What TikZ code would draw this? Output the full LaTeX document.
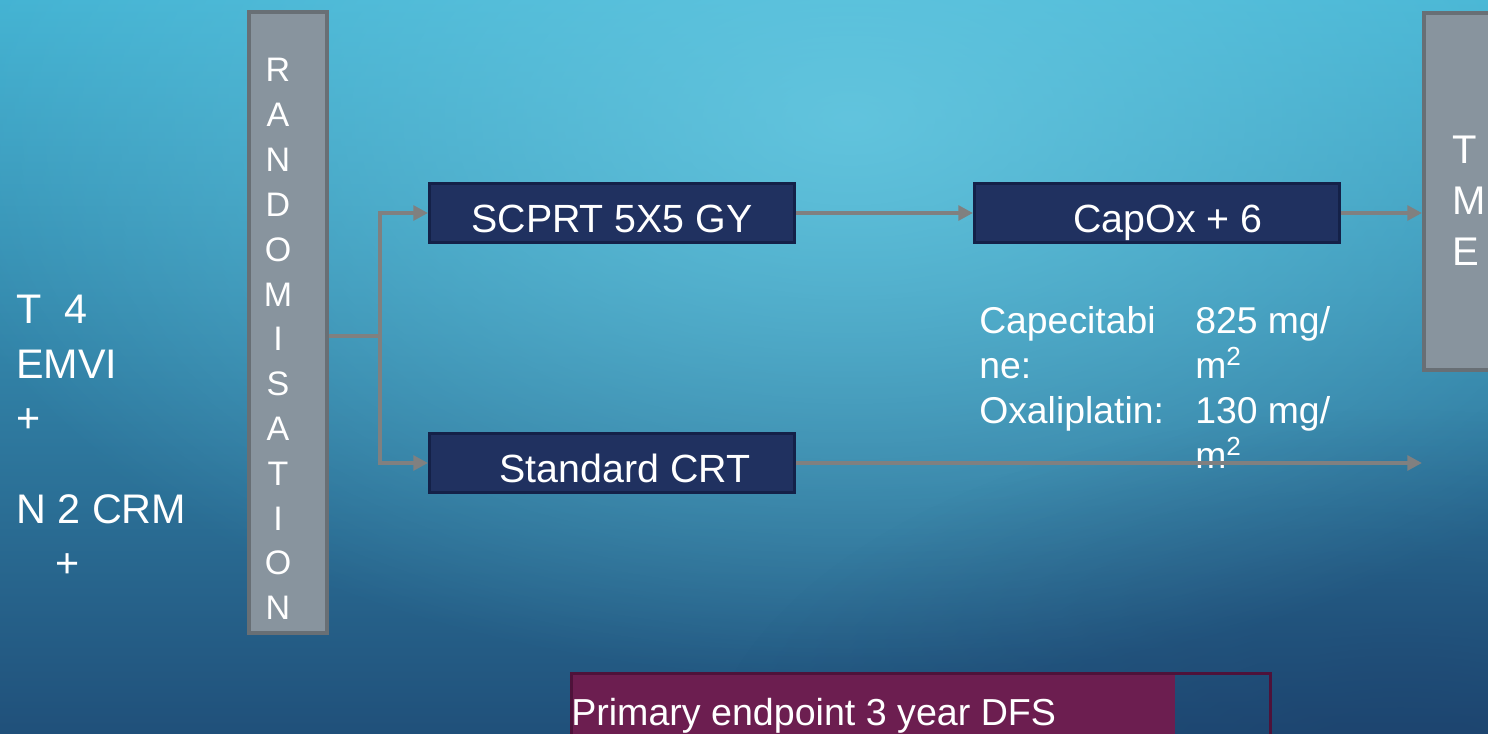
\documentclass[tikz,border=0pt]{standalone}
\usepackage{fontspec}
\setmainfont{Liberation Sans}
\usetikzlibrary{arrows.meta,fadings,calc}

\tikzfading[name=myfade, inner color=transparent!0, outer color=transparent!100]

\definecolor{bgtop}{RGB}{66,178,210}
\definecolor{bgmid}{RGB}{64,164,200}
\definecolor{bgbot}{RGB}{32,80,122}
\definecolor{bglight}{RGB}{104,202,226}
\definecolor{bgdark}{RGB}{26,56,100}
\definecolor{navyfill}{RGB}{32,49,96}
\definecolor{navyedge}{RGB}{20,33,72}
\definecolor{grayfill}{RGB}{136,148,158}
\definecolor{grayedge}{RGB}{104,111,117}
\definecolor{maroonfill}{RGB}{108,30,80}
\definecolor{maroonedge}{RGB}{78,18,58}
\definecolor{conncol}{RGB}{128,128,128}

\begin{document}
\begin{tikzpicture}[x=0.75pt,y=-0.75pt,
  navybox/.style={draw=navyedge, line width=2.25pt, fill=navyfill,
    minimum width=273.75pt, minimum height=44pt, inner sep=1pt, text=white,
    font=\fontsize{29.5pt}{35pt}\selectfont, text height=29.5pt, text depth=0pt},
  graybox/.style={draw=grayedge, line width=3pt, fill=grayfill, inner sep=0pt},
  wtext/.style={text=white, inner sep=0pt, anchor=base west},
  lefttext/.style={wtext, font=\fontsize{31pt}{37pt}\selectfont},
  dosetext/.style={wtext, font=\fontsize{28pt}{34pt}\selectfont},
  randletter/.style={text=white, inner sep=0pt, anchor=base, font=\fontsize{25.5pt}{30pt}\selectfont},
  tmeletter/.style={wtext, font=\fontsize{30pt}{36pt}\selectfont},
  conn/.style={draw=conncol, line width=3.3pt},
  arr/.style={-{Triangle[length=11pt,width=11pt]}}
]
\useasboundingbox (0,0) rectangle (1488,734);
\clip (0,0) rectangle (1488,734);
% background
\shade[top color=bgtop, middle color=bgmid, bottom color=bgbot] (0,0) rectangle (1488,734);
\fill[bglight, path fading=myfade, opacity=0.85] (850,120) ellipse (950 and 560);
\fill[bgdark, path fading=myfade, opacity=0.55] (1400,790) ellipse (700 and 380);

% left text
\node[lefttext] (t4) at (16,323) {T\hspace{0.55em}4};
\node[lefttext] (emvi) at (16,378) {EMVI};
\node[lefttext] (plusa) at (16,432) {+};
\node[lefttext] (n2crm) at (16,523) {N 2 CRM};
\node[lefttext] (plusb) at (55,577) {+};

% randomisation box
\node[graybox, minimum width=58.5pt, minimum height=465.75pt] (rand) at (288,322.5) {};
\foreach \l [count=\i] in {R,A,N,D,O,M,I,S,A,T,I,O,N}
  \node[randletter] (rl\i) at (278,{82+44.8*(\i-1)}) {\l};

% TME box
\node[graybox, minimum width=87pt, minimum height=267.75pt] (tme) at (1482,191.5) {};
\node[tmeletter] (tmeT) at (1452,164) {T};
\node[tmeletter] (tmeM) at (1452,215) {M};
\node[tmeletter] (tmeE) at (1452,266) {E};

% treatment boxes
\node[navybox] (scprt) at (612,213) {SCPRT 5X5 GY};
\node[navybox] (crt) at (612,463) {\hspace*{19.5pt}Standard CRT};
\node[navybox] (capox) at (1157,213) {\hspace*{16.5pt}CapOx + 6};

% doses
\node[dosetext] (capa) at (979,333) {Capecitabi};
\node[dosetext] (capb) at (979,378) {ne:};
\node[dosetext] (oxa) at (979,423) {Oxaliplatin:};
\node[dosetext] (dosea) at (1195,333) {825 mg/};
\node[dosetext] (doseb) at (1195,378) {m\textsuperscript{2}};
\node[dosetext] (dosec) at (1195,423) {130 mg/};
\node[dosetext] (dosed) at (1195,468) {m\textsuperscript{2}};

% primary endpoint box
\node[fill=maroonfill, inner sep=0pt, minimum width=453.75pt, minimum height=75pt, anchor=north west] (endfill) at (570,672) {};
\node[draw=maroonedge, line width=2.25pt, inner sep=0pt, minimum width=524.25pt, minimum height=75pt, anchor=north west] (endbox) at (569.5,671.5) {};
\node[wtext, font=\fontsize{28.2pt}{34pt}\selectfont] (endtext) at (571,725) {Primary endpoint 3 year DFS};

% connectors
\coordinate (split) at (380,336);
\draw[conn] (rand.east |- split) -- (split);
\draw[conn, arr] (split) |- (scprt.west);
\draw[conn, arr] (split) |- (crt.west);
\draw[conn, arr] (scprt.east) -- (capox.west);
\draw[conn, arr] (capox.east) -- (capox.east -| tme.west);
\draw[conn, arr] (crt.east) -- (crt.east -| tme.west);
\end{tikzpicture}
\end{document}
